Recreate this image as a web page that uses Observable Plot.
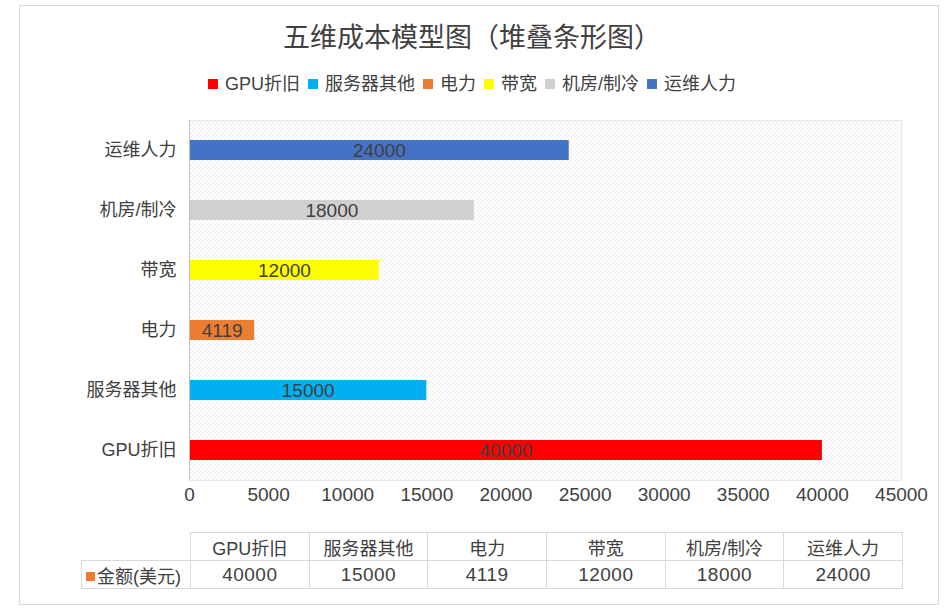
<!DOCTYPE html>
<html>
<head>
<meta charset="utf-8">
<script src="https://cdn.jsdelivr.net/npm/d3@7"></script>
<script src="https://cdn.jsdelivr.net/npm/@observablehq/plot@0.6"></script>
<style>
  html, body { margin: 0; padding: 0; background: #fff; }
  body { font-family: "Liberation Sans", "Noto Sans CJK SC", sans-serif; color: #404040; }
  #wrap { position: relative; width: 944px; height: 610px; overflow: hidden; }
  #border { position: absolute; left: 19px; top: 5px; width: 920px; height: 600px; border: 1px solid #d9d9d9; box-sizing: border-box; }
  #title { position: absolute; left: 0; width: 944px; top: 18px; text-align: center; font-size: 27px; line-height: 40px; color: #404040; }
  #legend { position: absolute; left: 0; width: 944px; top: 73px; display: flex; justify-content: center; font-size: 18px; line-height: 22px; color: #404040; }
  #legend .item { display: flex; align-items: center; margin: 0 4px; }
  #legend .sw { width: 10px; height: 10px; margin-right: 7px; display: inline-block; }
  #chart { position: absolute; left: 0; top: 110px; }
  #tbl { position: absolute; left: 81px; top: 532px; border-collapse: collapse; table-layout: fixed; width: 821px; font-size: 18px; color: #404040; }
  #tbl td { border: 1px solid #d9d9d9; text-align: center; padding: 0; height: 28px; box-sizing: border-box; }
  #tbl td.num { font-size: 19px; letter-spacing: 0.5px; }
  #tbl td.lab { text-align: left; padding-left: 4px; white-space: nowrap; }
  #tbl td.blank { border: none; }
  #tbl .sq { display: inline-block; width: 9px; height: 9px; background: #ed7d31; margin-right: 2px; vertical-align: 2px; }
</style>
</head>
<body>
<div id="wrap">
  <div id="border"></div>
  <div id="title"></div>
  <div id="legend"></div>
  <div id="chart"></div>
  <table id="tbl"><colgroup id="cols"></colgroup></table>
</div>
<script>
const title = "五维成本模型图（堆叠条形图）";
const categories = ["GPU折旧", "服务器其他", "电力", "带宽", "机房/制冷", "运维人力"];
const values = [40000, 15000, 4119, 12000, 18000, 24000];
const colors = ["#ff0000", "#00b0f0", "#ed7d31", "#ffff00", "#d0d0d0", "#4472c4"];
const xTicks = [0, 5000, 10000, 15000, 20000, 25000, 30000, 35000, 40000, 45000];
const seriesName = "金额(美元)";

const data = categories.map((c, i) => ({cat: c, value: values[i]}));

document.getElementById("title").textContent = title;

const legend = document.getElementById("legend");
categories.forEach((c, i) => {
  const it = document.createElement("span");
  it.className = "item";
  const sw = document.createElement("span");
  sw.className = "sw";
  sw.style.background = colors[i];
  it.appendChild(sw);
  it.appendChild(document.createTextNode(c));
  legend.appendChild(it);
});

const font = '"Liberation Sans", "Noto Sans CJK SC", sans-serif';

const chart = Plot.plot({
  width: 944,
  height: 410,
  marginLeft: 189,
  marginRight: 43,
  marginTop: 10,
  marginBottom: 40,
  style: {fontFamily: font, fontSize: "18px", color: "#404040", background: "transparent", overflow: "visible"},
  x: {domain: [0, 45000], label: null},
  y: {domain: [...categories].reverse(), paddingInner: 2/3, paddingOuter: 1/3, label: null},
  color: {domain: categories, range: colors},
  marks: [
    Plot.frame({fill: "url(#dotpat)", stroke: "#e8e8e8"}),
    Plot.barX(data, {y: "cat", x: "value", fill: "cat"}),
    Plot.ruleX([0], {stroke: "#bfbfbf"}),
    Plot.text(data, {y: "cat", x: d => d.value / 2, text: d => String(d.value), fill: "#404040", fontSize: 19, letterSpacing: "0.8px"}),
    Plot.axisX({ticks: xTicks, tickSize: 0, tickPadding: 7, fontSize: 19, letterSpacing: "0.3px", tickFormat: d => String(d), label: null}),
    Plot.axisY({tickSize: 0, tickPadding: 13, fontSize: 18, label: null})
  ]
});
chart.insertAdjacentHTML("afterbegin",
  '<defs><pattern id="dotpat" width="4" height="4" patternUnits="userSpaceOnUse">' +
  '<rect width="4" height="4" fill="#ffffff"/>' +
  '<rect x="0" y="0" width="1" height="1" fill="#d4d4d4"/>' +
  '<rect x="2" y="2" width="1" height="1" fill="#d4d4d4"/>' +
  '</pattern></defs>');
document.getElementById("chart").appendChild(chart);

// data table
const tbl = document.getElementById("tbl");
const cols = document.getElementById("cols");
const c0 = document.createElement("col");
c0.style.width = "109px";
cols.appendChild(c0);
categories.forEach(() => {
  const c = document.createElement("col");
  c.style.width = "118.67px";
  cols.appendChild(c);
});
const hr = document.createElement("tr");
const blank = document.createElement("td");
blank.className = "blank lab";
hr.appendChild(blank);
categories.forEach(c => {
  const td = document.createElement("td");
  td.textContent = c;
  hr.appendChild(td);
});
tbl.appendChild(hr);
const dr = document.createElement("tr");
const lab = document.createElement("td");
lab.className = "lab";
lab.innerHTML = '<span class="sq"></span>';
lab.appendChild(document.createTextNode(seriesName));
dr.appendChild(lab);
values.forEach(v => {
  const td = document.createElement("td");
  td.className = "num";
  td.textContent = String(v);
  dr.appendChild(td);
});
tbl.appendChild(dr);
</script>
</body>
</html>
